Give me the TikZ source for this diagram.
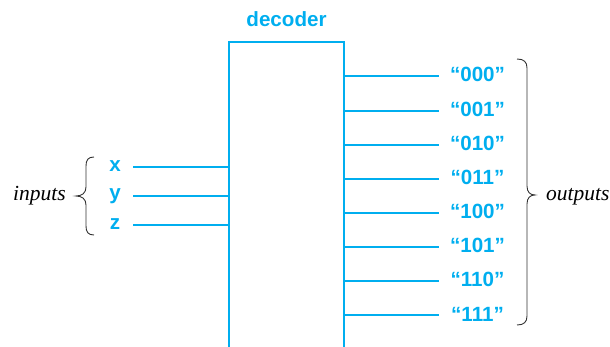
\documentclass[tikz,border=0pt]{standalone}
\usepackage{fontspec}
\setmainfont{Liberation Serif}
\setsansfont{Liberation Sans}
\definecolor{cy}{RGB}{0,174,239}
\definecolor{brc}{RGB}{50,50,50}
\begin{document}
\begin{tikzpicture}[x=1pt,y=-1pt,
  lbl/.style={font=\sffamily\bfseries\fontsize{20.6}{20.6}\selectfont, text=cy, inner sep=0pt, anchor=base},
  ital/.style={font=\itshape\fontsize{21.5}{21.5}\selectfont, inner sep=0pt, anchor=base},
  wire/.style={draw=cy, line width=1.5pt},
  bracepath/.style={draw=brc, line width=0.9pt}]
\useasboundingbox (0,0) rectangle (610,347);
% decoder box (open at the bottom)
\coordinate (bl) at (229,347);
\coordinate (tl) at (229,42);
\coordinate (tr) at (344,42);
\coordinate (br) at (344,347);
\draw[wire] (bl) -- (tl) -- (tr) -- (br);
\node[lbl] (dec) at (286.5,27) {decoder};
% inputs
\node[lbl] (x) at (115,172) {x};
\node[lbl] (y) at (115,200) {y};
\node[lbl] (z) at (115,230) {z};
\coordinate (xa) at (133,167);
\coordinate (ya) at (133,196);
\coordinate (za) at (133,225);
\draw[wire] (xa) -- (xa -| tl);
\draw[wire] (ya) -- (ya -| tl);
\draw[wire] (za) -- (za -| tl);
% outputs
\foreach \lab/\yy [count=\i] in {000/76,001/111,010/145,011/179,100/213,101/247,110/281,111/315}{
  \node[lbl] (o\i) at (477.5,\yy+6) {“\lab”};
  \coordinate (oe\i) at (439,\yy);
  \draw[wire] (oe\i -| tr) -- (oe\i);
}
% braces
\draw[bracepath] (94,157) .. controls (88,157) and (86,160) .. (86,166) -- (86,187)
  .. controls (86,193) and (82,196) .. (76,196) .. controls (82,196) and (86,199) .. (86,205)
  -- (86,226) .. controls (86,232) and (88,235) .. (94,235);
\draw[bracepath] (517,59) .. controls (524,59) and (527,62) .. (527,68) -- (527,186)
  .. controls (527,192) and (530,195) .. (535,195) .. controls (530,195) and (527,198) .. (527,204)
  -- (527,316) .. controls (527,322) and (524,325) .. (517,325);
\node[ital] (inp) at (39.5,201) {inputs};
\node[ital,anchor=base west] (outp) at (546,201) {outputs};
\end{tikzpicture}
\end{document}
